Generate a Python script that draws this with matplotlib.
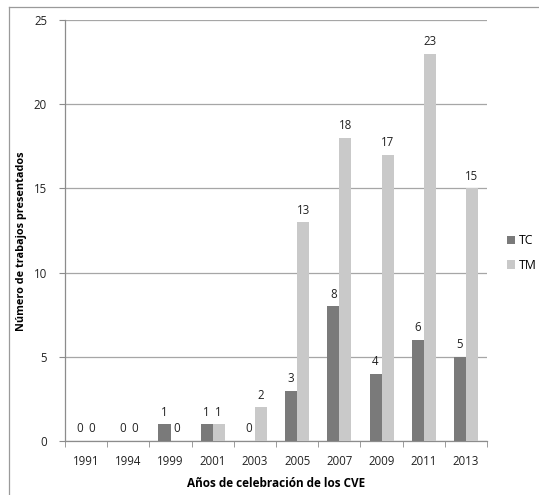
import matplotlib
matplotlib.use("Agg")
import matplotlib.pyplot as plt
import numpy as np
from matplotlib.lines import Line2D

years = ["1991", "1994", "1999", "2001", "2003", "2005", "2007", "2009", "2011", "2013"]
tc = [0, 0, 1, 1, 0, 3, 8, 4, 6, 5]
tm = [0, 0, 0, 1, 2, 13, 18, 17, 23, 15]

C_TC = "#7a7a7a"
C_TM = "#c9c9c9"

plt.rcParams["font.family"] = ["Open Sans", "DejaVu Sans"]

fig = plt.figure(figsize=(5.39, 4.95), dpi=100)
ax = fig.add_axes([0.1206, 0.109, 0.783, 0.8505])

x = np.arange(len(years))
w = 0.285
b1 = ax.bar(x - w / 2, tc, w, color=C_TC, label="TC", zorder=3)
b2 = ax.bar(x + w / 2, tm, w, color=C_TM, label="TM", zorder=3)

for bars, vals in ((b1, tc), (b2, tm)):
    for r, v in zip(bars, vals):
        ax.annotate(str(v), (r.get_x() + r.get_width() / 2, v),
                    xytext=(0, 4), textcoords="offset points",
                    ha="center", va="bottom", fontsize=8.3, color="#222222")

ax.set_xlim(-0.5, len(years) - 0.5)
ax.set_ylim(0, 25)
ax.set_yticks(range(0, 26, 5))
ax.set_xticks(x)
ax.set_xticklabels(years)
ax.set_xticks(np.arange(-0.5, len(years)), minor=True)
ax.tick_params(axis="x", which="major", length=0, pad=10, labelsize=8.3, colors="#222222")
ax.tick_params(axis="x", which="minor", length=4, color="#8c8c8c", direction="out")
ax.tick_params(axis="y", length=4, pad=9, labelsize=8.3, colors="#222222")
ax.tick_params(axis="y", color="#8c8c8c")

ax.yaxis.grid(True, color="#a6a6a6", lw=0.9, zorder=0)
for s in ("top", "right"):
    ax.spines[s].set_visible(False)
for s in ("left", "bottom"):
    ax.spines[s].set_color("#8c8c8c")
    ax.spines[s].set_linewidth(0.9)

ax.set_xlabel("Años de celebración de los CVE", fontsize=8.5, fontweight="bold")
ax.set_ylabel("Número de trabajos presentados", fontsize=7.8, fontweight="bold")
ax.xaxis.set_label_coords(0.5, -0.086)
ax.yaxis.set_label_coords(-0.090, 0.475)

fig.legend(handles=[b1, b2], loc="center left", bbox_to_anchor=(0.929, 0.489),
           frameon=False, borderpad=0, handlelength=0.7, handleheight=0.7,
           handletextpad=0.3, labelspacing=0.95, fontsize=8.8)

# outer chart frame
fx0, fy1 = 9 / 539, 1 - 7 / 495
fig.add_artist(Line2D([fx0, 1.0], [fy1, fy1], transform=fig.transFigure, color="#9a9a9a", lw=0.9))
fig.add_artist(Line2D([fx0, fx0], [0.0, fy1], transform=fig.transFigure, color="#9a9a9a", lw=0.9))

fig.savefig("out.png", dpi=100)
